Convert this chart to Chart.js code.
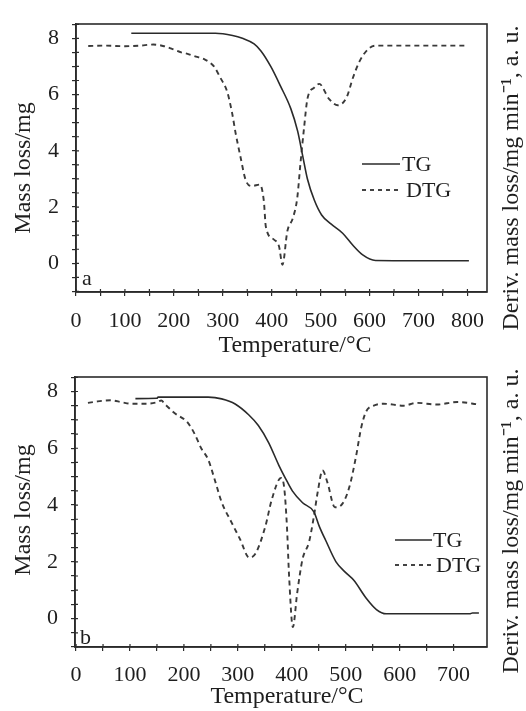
<!DOCTYPE html>
<html><head><meta charset="utf-8">
<script src="https://cdn.jsdelivr.net/npm/chart.js@4/dist/chart.umd.min.js"></script>
<style>
html,body{margin:0;padding:0;background:#fff;}
#wrap{position:relative;width:526px;height:711px;overflow:hidden;background:#fff;}
.pane{position:absolute;left:0;width:526px;}
</style></head><body>
<div id="wrap">
<div class="pane" style="top:0;height:360px"><canvas id="ca" width="526" height="360"></canvas></div>
<div class="pane" style="top:360px;height:351px"><canvas id="cb" width="526" height="351"></canvas></div>
</div>
<script>
// ---------- data ----------
const seriesNames = ['TG', 'DTG'];
const xTitle = 'Temperature/°C';
const yTitle = 'Mass loss/mg';
const y2Title = 'Deriv. mass loss/mg min⁻¹, a. u.';
const panelLabels = ['a', 'b'];

const xTickLabelsA = [0, 100, 200, 300, 400, 500, 600, 700, 800];
const xTickLabelsB = [0, 100, 200, 300, 400, 500, 600, 700];
const yTickLabels = [0, 2, 4, 6, 8];

// Panel a – TG
const tgA_T = [113, 200, 285, 320, 340, 364, 378, 398, 418, 439, 453, 463, 473, 487, 502, 521, 545, 565, 586, 612, 700, 803];
const tgA_M = [8.18, 8.18, 8.18, 8.1, 8.0, 7.8, 7.55, 7.0, 6.3, 5.5, 4.7, 3.85, 3.0, 2.25, 1.72, 1.4, 1.07, 0.66, 0.3, 0.1, 0.09, 0.09];
// Panel a – DTG
const dtgA_T = [25, 60, 100, 130, 158, 180, 200, 215, 228, 245, 262, 282, 295, 309, 319, 326, 336, 347, 360, 376, 384, 388, 404, 415, 422, 432, 443, 452, 459, 466, 473, 487, 497, 517, 535, 553, 566, 580, 598, 612, 700, 800];
const dtgA_V = [7.73, 7.74, 7.72, 7.74, 7.78, 7.72, 7.6, 7.5, 7.45, 7.35, 7.26, 7.0, 6.6, 6.1, 5.35, 4.65, 3.8, 2.95, 2.75, 2.8, 2.2, 1.3, 0.85, 0.6, -0.05, 1.15, 1.6, 2.3, 3.6, 4.8, 5.85, 6.25, 6.38, 5.85, 5.62, 5.9, 6.6, 7.2, 7.63, 7.74, 7.74, 7.74];

// Panel b – TG
const tgB_T = [110, 150, 152, 245, 270, 295, 320, 338, 357, 376, 388, 401, 420, 441, 451, 463, 482, 500, 515, 538, 557, 575, 730, 735, 747];
const tgB_M = [7.75, 7.76, 7.8, 7.8, 7.74, 7.56, 7.18, 6.8, 6.2, 5.4, 4.95, 4.5, 4.08, 3.76, 3.25, 2.75, 2.0, 1.62, 1.35, 0.72, 0.32, 0.17, 0.17, 0.2, 0.2];
// Panel b – DTG
const dtgB_T = [22, 40, 64, 85, 101, 132, 150, 158, 165, 182, 207, 220, 232, 245, 257, 270, 288, 304, 321, 333, 351, 363, 380, 386, 391, 395, 402, 410, 420, 432, 441, 448, 457, 466, 480, 494, 507, 519, 529, 538, 552, 570, 607, 632, 669, 707, 747];
const dtgB_V = [7.6, 7.65, 7.69, 7.62, 7.57, 7.57, 7.62, 7.68, 7.55, 7.25, 6.9, 6.5, 6.0, 5.6, 4.9, 4.1, 3.4, 2.8, 2.15, 2.3, 3.25, 4.2, 4.95, 4.6, 3.25, 1.5, -0.3, 0.9, 2.1, 2.7, 3.6, 4.45, 5.22, 4.8, 3.92, 4.05, 4.65, 5.7, 6.75, 7.3, 7.5, 7.57, 7.5, 7.6, 7.54, 7.63, 7.54];

// ---------- drawing ----------
const FONT = '"Liberation Serif", "Times New Roman", serif';
const INK = '#2b2b2b';

function pts(xs, ys) { return xs.map((x, i) => ({ x: x, y: ys[i] })); }

function makePanel(id, H, geo) {
  const xMinor = [];
  for (let v = 0; v <= geo.xLabels[geo.xLabels.length - 1]; v += 50) xMinor.push(v);
  const yMinor = [];
  for (let v = -1; v <= 8.5001; v += 0.5) yMinor.push(Math.round(v * 10) / 10);

  const overlay = {
    id: 'overlay',
    afterDraw(chart) {
      const ctx = chart.ctx, a = chart.chartArea;
      ctx.save();
      // frame
      ctx.strokeStyle = INK; ctx.lineWidth = 1.6;
      ctx.strokeRect(a.left, a.top, a.right - a.left, a.bottom - a.top);
      // inner tick marks
      const xs = chart.scales.x, ys = chart.scales.y;
      ctx.lineWidth = 1.2;
      ctx.beginPath();
      xMinor.forEach(v => { const p = xs.getPixelForValue(v); ctx.moveTo(p, a.bottom); ctx.lineTo(p, a.bottom - 3); });
      yMinor.forEach(v => { const p = ys.getPixelForValue(v); ctx.moveTo(a.left, p); ctx.lineTo(a.left + 3, p); });
      ctx.stroke();
      // legend
      ctx.fillStyle = '#1e1e1e';
      ctx.font = '22px ' + FONT;
      ctx.textBaseline = 'middle'; ctx.textAlign = 'left';
      chart.data.datasets.forEach((ds, i) => {
        const ly = geo.legY[i];
        ctx.strokeStyle = ds.borderColor; ctx.lineWidth = ds.borderWidth;
        ctx.setLineDash(i === 0 ? [] : [4, 4]);
        ctx.beginPath(); ctx.moveTo(geo.legX0, ly); ctx.lineTo(geo.legX1, ly); ctx.stroke();
        ctx.setLineDash([]);
        ctx.fillText(ds.label, geo.legTx[i], ly + 1);
      });
      // panel label
      ctx.fillText(geo.label, geo.labX, geo.labY);
      // axis titles
      ctx.font = '24px ' + FONT;
      ctx.textAlign = 'center';
      ctx.fillText(xTitle, geo.xtX, geo.xtY);
      ctx.save(); ctx.translate(geo.ytX, geo.ytY); ctx.rotate(-Math.PI / 2);
      ctx.fillText(yTitle, 0, 0); ctx.restore();
      ctx.save(); ctx.translate(geo.y2X, geo.y2Y); ctx.rotate(-Math.PI / 2);
      ctx.fillText(y2Title, 0, 0); ctx.restore();
      ctx.restore();
    }
  };

  return new Chart(document.getElementById(id), {
    type: 'line',
    data: {
      datasets: [
        { label: seriesNames[0], data: pts(geo.tgT, geo.tgM), borderColor: '#2a2a2a', borderWidth: 1.6,
          pointRadius: 0, fill: false, cubicInterpolationMode: 'monotone' },
        { label: seriesNames[1], data: pts(geo.dtgT, geo.dtgV), borderColor: '#3a3a3a', borderWidth: 1.9,
          borderDash: [5, 4], pointRadius: 0, fill: false, cubicInterpolationMode: 'monotone' }
      ]
    },
    options: {
      responsive: false, animation: false, devicePixelRatio: 1,
      layout: { padding: { left: 0, top: geo.top, right: 526 - geo.right, bottom: 0 } },
      plugins: { legend: { display: false }, tooltip: { enabled: false } },
      scales: {
        x: {
          type: 'linear', min: geo.xMin, max: geo.xMax,
          afterBuildTicks: s => { s.ticks = xMinor.map(v => ({ value: v })); },
          afterFit: s => { s.height = H - geo.bottom; s.paddingLeft = 0; s.paddingRight = 0; },
          ticks: { autoSkip: false, maxRotation: 0, minRotation: 0, padding: geo.xPad, color: '#1e1e1e',
            font: { family: FONT, size: 22 },
            callback: v => (geo.xLabels.indexOf(v) >= 0 ? String(v) : '') },
          grid: { display: true, drawOnChartArea: false, drawTicks: true, tickLength: 4, color: INK, lineWidth: 1.2 },
          border: { display: true, color: INK, width: 1.6 }
        },
        y: {
          type: 'linear', min: geo.yMin, max: geo.yMax,
          afterBuildTicks: s => { s.ticks = yMinor.map(v => ({ value: v })); },
          afterFit: s => { s.width = geo.left; s.paddingTop = 0; s.paddingBottom = 0; },
          ticks: { autoSkip: false, padding: 13, color: '#1e1e1e', font: { family: FONT, size: 22 },
            callback: v => (yTickLabels.indexOf(v) >= 0 ? String(v) : '') },
          grid: { display: true, drawOnChartArea: false, drawTicks: true, tickLength: 4, color: INK, lineWidth: 1.2 },
          border: { display: true, color: INK, width: 1.6 }
        }
      }
    },
    plugins: [overlay]
  });
}

makePanel('ca', 360, {
  left: 76, right: 487, top: 24, bottom: 292, xPad: 12,
  xMin: 0, xMax: 840, yMin: -1.02, yMax: 8.51, xLabels: xTickLabelsA,
  tgT: tgA_T, tgM: tgA_M, dtgT: dtgA_T, dtgV: dtgA_V,
  legX0: 362, legX1: 400, legY: [164, 190], legTx: [402, 406],
  label: panelLabels[0], labX: 82, labY: 279,
  xtX: 295, xtY: 346, ytX: 24, ytY: 168, y2X: 512, y2Y: 178
});

makePanel('cb', 351, {
  left: 75, right: 487, top: 17, bottom: 287, xPad: 11,
  xMin: -2, xMax: 762, yMin: -1.0, yMax: 8.51, xLabels: xTickLabelsB,
  tgT: tgB_T, tgM: tgB_M, dtgT: dtgB_T, dtgV: dtgB_V,
  legX0: 395, legX1: 432, legY: [180, 205], legTx: [433, 436],
  label: panelLabels[1], labX: 80, labY: 278,
  xtX: 287, xtY: 337, ytX: 24, ytY: 150, y2X: 512, y2Y: 161
});
</script>
</body></html>
